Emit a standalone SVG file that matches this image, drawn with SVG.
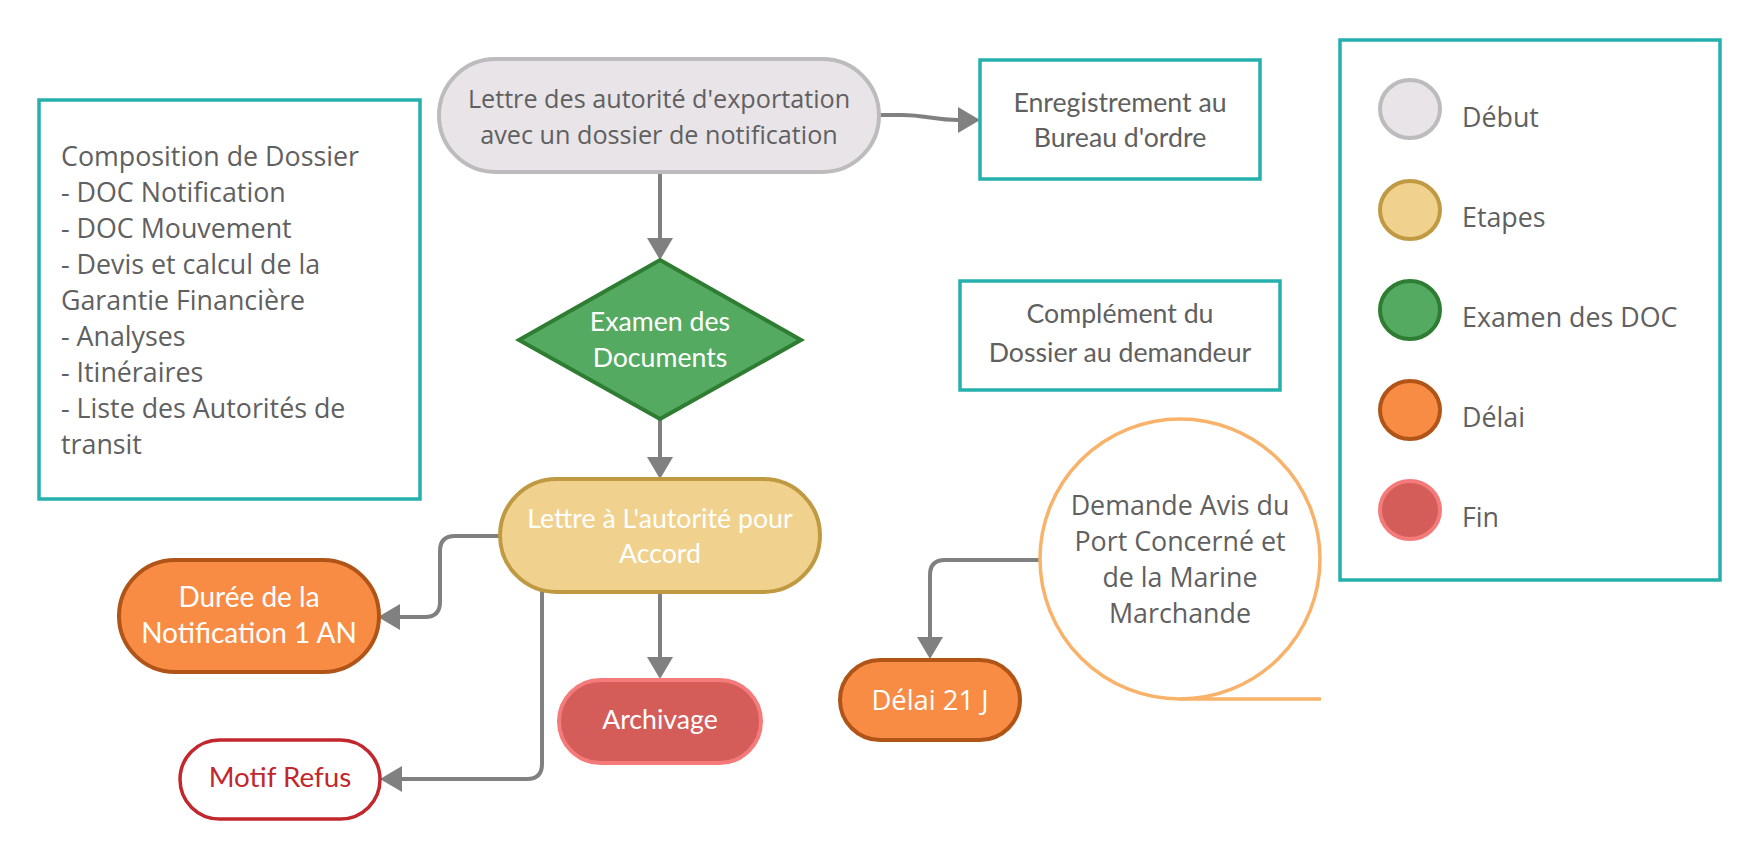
<svg xmlns="http://www.w3.org/2000/svg" width="1760" height="856" viewBox="0 0 1760 856">
<defs>
<marker id="arr" markerUnits="userSpaceOnUse" markerWidth="24" markerHeight="28" refX="10" refY="13" orient="auto">
<path d="M0,0 L22,13 L0,26 z" fill="#808080"/>
</marker>
<style>
.os{font-family:"Open Sans","Liberation Sans",sans-serif;font-size:26.8px;fill:#606060}
.lt{font-family:Lato,"Open Sans",sans-serif;font-size:26.7px;fill:#606060}
.w{fill:#ffffff}
.c{text-anchor:middle}
.box{fill:#ffffff;stroke:#26b0ad;stroke-width:3.5}
.debut{fill:#e8e4e8;stroke:#bdbbbd;stroke-width:4}
.etape{fill:#f0d28e;stroke:#c09a42;stroke-width:4}
.exam{fill:#55aa61;stroke:#2e7d32;stroke-width:4}
.delai{fill:#f98c44;stroke:#b05418;stroke-width:4}
.fin{fill:#d45d5a;stroke:#f57a7a;stroke-width:4}
.conn path{fill:none;stroke:#808080;stroke-width:4;marker-end:url(#arr)}
</style>
</defs>
<rect width="1760" height="856" fill="#ffffff"/>

<g class="conn" id="connectors">
<path d="M879,115 L902,115 C925,115 935,120 958,120 L968,120"/>
<path d="M660,172 L660,248"/>
<path d="M660,420 L660,467"/>
<path d="M500,536 L455,536 Q440,536 440,551 L440,602 Q440,617 425,617 L390,617"/>
<path d="M542,590 L542,764 Q542,779 527,779 L392,779"/>
<path d="M660,592 L660,667"/>
<path d="M1040,560 L945,560 Q930,560 930,575 L930,647"/>
</g>

<g id="n-lettre-export">
<rect class="debut" x="439" y="59" width="440" height="113" rx="56.5"/>
<text class="os c" x="659" y="108" style="font-size:25.2px">Lettre des autorité d'exportation</text>
<text class="os c" x="659" y="144" style="font-size:25.2px">avec un dossier de notification</text>
</g>

<g id="n-enregistrement">
<rect class="box" x="980" y="60" width="280" height="119"/>
<text class="lt c" x="1120" y="112">Enregistrement au</text>
<text class="lt c" x="1120" y="147">Bureau d'ordre</text>
</g>

<g id="n-composition">
<rect class="box" x="39" y="100" width="381" height="399"/>
<text class="os" x="61" y="166">Composition de Dossier</text>
<text class="os" x="61" y="202">- DOC Notification</text>
<text class="os" x="61" y="238">- DOC Mouvement</text>
<text class="os" x="61" y="274">- Devis et calcul de la</text>
<text class="os" x="61" y="310">Garantie Financière</text>
<text class="os" x="61" y="346">- Analyses</text>
<text class="os" x="61" y="382">- Itinéraires</text>
<text class="os" x="61" y="418">- Liste des Autorités de</text>
<text class="os" x="61" y="454">transit</text>
</g>

<g id="n-examen">
<polygon class="exam" points="660,260 801,340 660,419 519,340"/>
<text class="lt w c" x="660" y="331">Examen des</text>
<text class="lt w c" x="660" y="367">Documents</text>
</g>

<g id="n-complement">
<rect class="box" x="960" y="281" width="320" height="109"/>
<text class="lt c" x="1120" y="323">Complément du</text>
<text class="lt c" x="1120" y="362">Dossier au demandeur</text>
</g>

<g id="n-lettre-accord">
<rect class="etape" x="500" y="479" width="320" height="113" rx="56.5"/>
<text class="lt w c" x="660" y="528">Lettre à L'autorité pour</text>
<text class="lt w c" x="660" y="563">Accord</text>
</g>

<g id="n-duree">
<rect class="delai" x="119" y="560" width="260" height="112" rx="56"/>
<text class="lt w c" x="249" y="607" style="font-size:28px">Durée de la</text>
<text class="lt w c" x="249" y="643" style="font-size:28px">Notification 1 AN</text>
</g>

<g id="n-archivage">
<rect class="fin" x="559" y="680" width="202" height="83" rx="41.5"/>
<text class="lt w c" x="660" y="729">Archivage</text>
</g>

<g id="n-motif">
<rect x="180" y="740" width="200" height="79" rx="39.5" fill="#ffffff" stroke="#c1272d" stroke-width="3.5"/>
<text class="lt c" x="280" y="787" style="fill:#c1272d;font-size:27.8px">Motif Refus</text>
</g>

<g id="n-demande">
<circle cx="1180" cy="559" r="140" fill="#ffffff" stroke="#f8b26a" stroke-width="3.5"/>
<path d="M1180,699 L1321,699" fill="none" stroke="#f8b26a" stroke-width="3.5"/>
<text class="os c" x="1180" y="515">Demande Avis du</text>
<text class="os c" x="1180" y="551">Port Concerné et</text>
<text class="os c" x="1180" y="587">de la Marine</text>
<text class="os c" x="1180" y="623">Marchande</text>
</g>

<g id="n-delai21">
<rect class="delai" x="840" y="660" width="180" height="80" rx="40"/>
<text class="os w c" x="930" y="710" style="font-size:27.4px">Délai 21 J</text>
</g>

<g id="legend">
<rect class="box" x="1340" y="40" width="380" height="540"/>
<g id="lg-debut"><ellipse class="debut" cx="1410" cy="109" rx="30" ry="29"/><text class="os" x="1462" y="127">Début</text></g>
<g id="lg-etapes"><ellipse class="etape" cx="1410" cy="210" rx="30" ry="29"/><text class="os" x="1462" y="227">Etapes</text></g>
<g id="lg-examen"><ellipse class="exam" cx="1410" cy="310" rx="30" ry="29"/><text class="os" x="1462" y="327">Examen des DOC</text></g>
<g id="lg-delai"><ellipse class="delai" cx="1410" cy="410" rx="30" ry="29"/><text class="os" x="1462" y="427">Délai</text></g>
<g id="lg-fin"><ellipse class="fin" cx="1410" cy="510" rx="30" ry="29"/><text class="os" x="1462" y="527">Fin</text></g>
</g>
</svg>
